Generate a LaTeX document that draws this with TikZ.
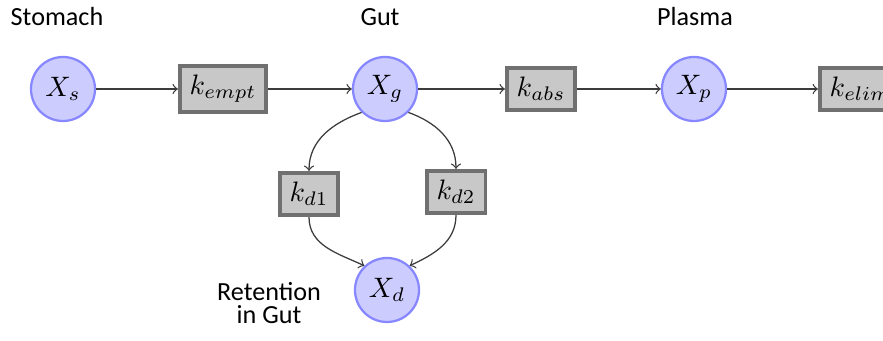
\documentclass[tikz,border=0pt]{standalone}
\usepackage{fontspec}
\setmainfont{Carlito}
\usepackage{amsmath}
\usetikzlibrary{arrows.meta}
\definecolor{poolfill}{RGB}{204,204,255}
\definecolor{pooldraw}{RGB}{135,135,255}
\definecolor{ratefill}{RGB}{200,200,200}
\definecolor{ratedraw}{RGB}{112,112,112}
\definecolor{flowline}{RGB}{60,60,60}

\begin{document}
\begin{tikzpicture}[x=0.0125cm,y=-0.0125cm]
\tikzset{
  pool/.style={circle,draw=pooldraw,fill=poolfill,line width=0.8pt,minimum size=0.8cm,inner sep=0pt},
  rate/.style={rectangle,draw=ratedraw,fill=ratefill,line width=1.3pt,minimum height=0.53cm,inner xsep=3.5pt},
  flow/.style={-to,draw=flowline,line width=0.45pt},
  compname/.style={font=\fontsize{9.3}{8.2}\selectfont,align=center}
}
\useasboundingbox (0,0) rectangle (883,341);
% compartments
\node[pool] (n_Xs) at (63,89) {$X_s$};
\node[pool] (n_Xg) at (385,89) {$X_g$};
\node[pool] (n_Xp) at (694,89) {$X_p$};
\node[pool] (n_Xd) at (387,290) {$X_d$};
% rate constants
\node[rate] (r_empt) at (223,89) {$k_{empt}$};
\node[rate] (r_abs) at (541,89) {$k_{abs}$};
\node[rate,anchor=west] (r_elim) at (818,89) {$k_{elim}$};
\node[rate] (r_d1) at (309,194) {$k_{d1}$};
\node[rate] (r_d2) at (456,192) {$k_{d2}$};
% labels
\node[compname,anchor=base] (l_stomach) at (57,26) {Stomach};
\node[compname,anchor=base] (l_gut) at (380,26) {Gut};
\node[compname,anchor=base] (l_plasma) at (695,26) {Plasma};
\node[compname] (l_retention) at (269,303) {Retention\\in Gut};
% flows
\draw[flow] (n_Xs) -- (r_empt);
\draw[flow] (r_empt) -- (n_Xg);
\draw[flow] (n_Xg) -- (r_abs);
\draw[flow] (r_abs) -- (n_Xp);
\draw[flow] (n_Xp) -- (r_elim);
\draw[flow] (n_Xg.225) to[out=200,in=90] (r_d1.north);
\draw[flow] (n_Xg.-45) to[out=-20,in=90] (r_d2.north);
\draw[flow] (r_d1.south) to[out=-90,in=155] (n_Xd.133);
\draw[flow] (r_d2.south) to[out=-90,in=25] (n_Xd.47);
\end{tikzpicture}
\end{document}
